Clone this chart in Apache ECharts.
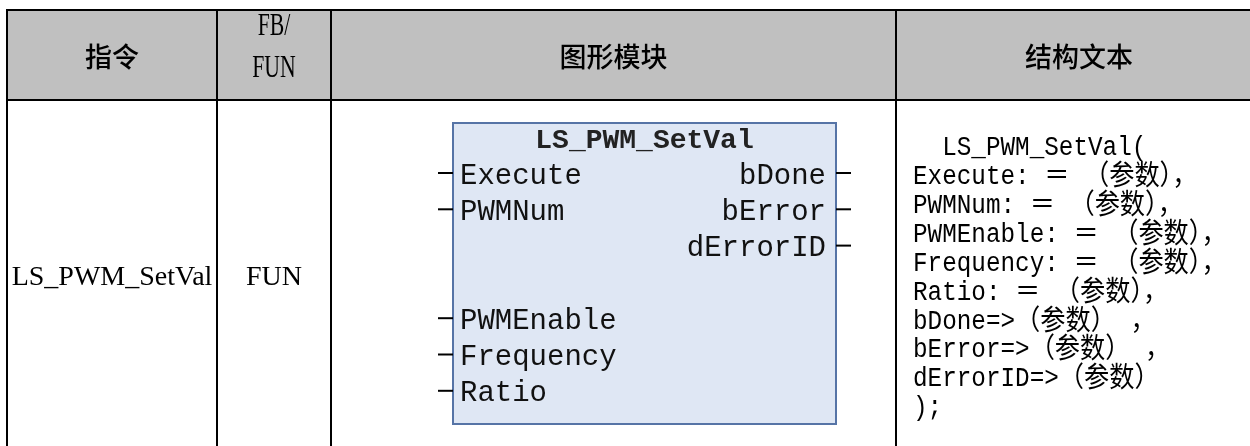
<!DOCTYPE html>
<html><head><meta charset="utf-8">
<script src="https://cdn.jsdelivr.net/npm/echarts@6/dist/echarts.min.js"></script>
<style>html,body{margin:0;padding:0;background:#fff}#c{width:1250px;height:446px}</style>
</head><body><div id="c"></div>
<script>
// ---- table content ----
const headers = ['指令', 'FB/\nFUN', '图形模块', '结构文本'];
const instruction = ['LS_PWM_SetVal'];
const fbType = ['FUN'];
const blockTitle = ['LS_PWM_SetVal'];
const blockInputs = ['Execute', 'PWMNum', '', '', 'PWMEnable', 'Frequency', 'Ratio'];
const blockOutputs = ['bDone', 'bError', 'dErrorID'];
const stLines = [
  '  LS_PWM_SetVal(',
  'Execute: ＝ （参数），',
  'PWMNum: ＝ （参数），',
  'PWMEnable: ＝ （参数），',
  'Frequency: ＝ （参数），',
  'Ratio: ＝ （参数），',
  'bDone=>（参数） ，',
  'bError=>（参数） ，',
  'dErrorID=>（参数）',
  ');'
];

// ---- layout ----
const colX = [7, 217, 331, 896, 1262];
const topY = 10, headY = 100, botY = 446;
const cx = i => (colX[i] + colX[i + 1]) / 2;
const SERIF = "'Liberation Serif', 'Noto Sans CJK SC', serif";
const CJK = "'Noto Sans CJK SC', sans-serif";
const MONO = "'Liberation Mono', 'Noto Sans CJK SC', monospace";

// split a line into latin / full-width runs, each with its own rich style
function richLine(s) {
  const runs = s.match(/[\u3000-\u9fff\uff00-\uffef]+|[^\u3000-\u9fff\uff00-\uffef]+/g) || [];
  return runs.map(r => (/[\u3000-\u9fff\uff00-\uffef]/.test(r) ? '{c|' : '{l|') + r + '}').join('');
}

const g = [];
g.push({type: 'rect', shape: {x: colX[0], y: topY, width: colX[4] - colX[0], height: headY - topY}, style: {fill: '#c0c0c0'}});
// grid lines
g.push({type: 'line', shape: {x1: colX[0] - 1, y1: topY, x2: 1250, y2: topY}, style: {stroke: '#000', lineWidth: 2}});
g.push({type: 'line', shape: {x1: colX[0] - 1, y1: headY, x2: 1250, y2: headY}, style: {stroke: '#000', lineWidth: 2}});
for (let i = 0; i < 4; i++) {
  g.push({type: 'line', shape: {x1: colX[i], y1: topY, x2: colX[i], y2: botY}, style: {stroke: '#000', lineWidth: 2}});
}
// headers
headers.forEach((h, i) => {
  const parts = h.split('\n');
  if (parts.length === 1) {
    g.push({type: 'text', x: cx(i), y: 56.5, style: {text: h, font: '500 27px ' + CJK, fill: '#000', align: 'center', verticalAlign: 'middle'}});
  } else {
    parts.forEach((p, k) => {
      g.push({type: 'text', x: cx(i), y: 27 + k * 42, scaleX: 0.68, style: {text: p, font: '32px ' + SERIF, fill: '#000', align: 'center', verticalAlign: 'middle'}});
    });
  }
});
// body col 1 & 2
g.push({type: 'text', x: cx(0), y: 278, style: {text: instruction[0], font: '28px ' + SERIF, fill: '#000', align: 'center', verticalAlign: 'middle'}});
g.push({type: 'text', x: cx(1), y: 278, style: {text: fbType[0], font: '28px ' + SERIF, fill: '#000', align: 'center', verticalAlign: 'middle'}});

// function block
const bx = 453, by = 123, bw = 383, bh = 301;
const rowY = i => 173 + i * 36.3;
g.push({type: 'rect', shape: {x: bx, y: by, width: bw, height: bh}, style: {fill: '#dfe7f4', stroke: '#5674a6', lineWidth: 2}});
g.push({type: 'text', x: bx + bw / 2, y: 141, style: {text: blockTitle[0], font: 'bold 28px ' + MONO, fill: '#222', align: 'center', verticalAlign: 'middle'}});
blockInputs.forEach((t, i) => {
  if (!t) return;
  const y = rowY(i);
  g.push({type: 'line', shape: {x1: bx - 15, y1: y, x2: bx, y2: y}, style: {stroke: '#000', lineWidth: 2}});
  g.push({type: 'text', x: bx + 7, y: y + 3, style: {text: t, font: '29px ' + MONO, fill: '#111', align: 'left', verticalAlign: 'middle'}});
});
blockOutputs.forEach((t, i) => {
  if (!t) return;
  const y = rowY(i);
  g.push({type: 'line', shape: {x1: bx + bw, y1: y, x2: bx + bw + 15, y2: y}, style: {stroke: '#000', lineWidth: 2}});
  g.push({type: 'text', x: bx + bw - 10, y: y + 3, style: {text: t, font: '29px ' + MONO, fill: '#111', align: 'right', verticalAlign: 'middle'}});
});
// structured text
stLines.forEach((t, i) => {
  g.push({type: 'text', x: 913, y: 148 + i * 28.9, scaleX: 0.9, style: {
    text: richLine(t), align: 'left', verticalAlign: 'middle',
    rich: {
      l: {font: '27px ' + MONO, fill: '#000', lineHeight: 30, verticalAlign: 'middle'},
      c: {font: '28px ' + CJK, fill: '#000', lineHeight: 30, verticalAlign: 'middle', padding: [0, 0, 5, 0]}
    }
  }});
});

const chart = echarts.init(document.getElementById('c'), null, {renderer: 'canvas'});
chart.setOption({backgroundColor: '#fff', animation: false, graphic: {elements: g}});
</script></body></html>
